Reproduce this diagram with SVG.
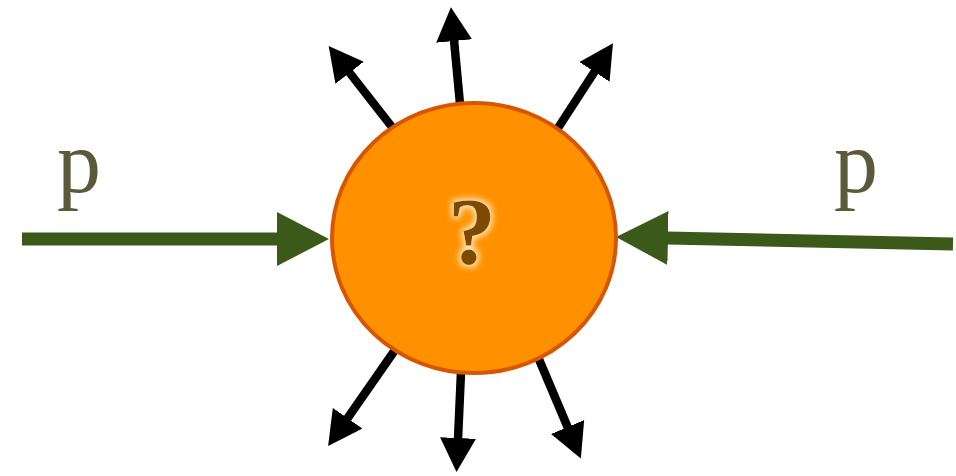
<svg xmlns="http://www.w3.org/2000/svg" width="956" height="476" viewBox="0 0 956 476">
<style>
.out{stroke:#000;stroke-width:8.5;fill:none;marker-end:url(#ah)}
.in{stroke:#3b5a1a;stroke-width:13;fill:none;marker-end:url(#gh)}
.lbl{font-family:"Liberation Serif",serif;font-size:88px;fill:#5a5a3a}
</style>
<defs>
<marker id="ah" markerUnits="userSpaceOnUse" markerWidth="34" markerHeight="36" viewBox="0 0 34 36" refX="1" refY="18" orient="auto">
<path d="M0,0 L34,18 L0,36 z" fill="#000"/>
</marker>
<marker id="gh" markerUnits="userSpaceOnUse" markerWidth="52" markerHeight="54" viewBox="0 0 52 54" refX="1" refY="27" orient="auto">
<path d="M0,0 L52,27 L0,54 z" fill="#3b5a1a"/>
</marker>
<filter id="glow" x="-50%" y="-50%" width="200%" height="200%">
<feMorphology in="SourceAlpha" operator="dilate" radius="2" result="d"/>
<feGaussianBlur in="d" stdDeviation="3" result="b"/>
<feFlood flood-color="#fff4d0" flood-opacity="0.9"/>
<feComposite in2="b" operator="in" result="g"/>
<feMerge><feMergeNode in="g"/><feMergeNode in="SourceGraphic"/></feMerge>
</filter>
</defs>
<g id="connectors">
<path class="out" d="M392,127 L349,72"/>
<path class="out" d="M460,104 L454,40"/>
<path class="out" d="M558,128 L595,71"/>
<path class="out" d="M395,350 L347,419"/>
<path class="out" d="M461,372 L458,439"/>
<path class="out" d="M538,357 L568,428"/>
<path class="in" d="M22,239 L278,239"/>
<path class="in" d="M953,244 L667,238"/>
</g>
<g id="blob">
<ellipse cx="474" cy="238" rx="142" ry="135" fill="#ff9100" stroke="#d75600" stroke-width="4"/>
<text x="472" y="264" text-anchor="middle" font-family="Liberation Serif,serif" font-weight="bold" font-size="96" fill="#7e4a06" filter="url(#glow)">?</text>
</g>
<g id="p-left"><text class="lbl" x="57" y="192">p</text></g>
<g id="p-right"><text class="lbl" x="834" y="192">p</text></g>
</svg>
